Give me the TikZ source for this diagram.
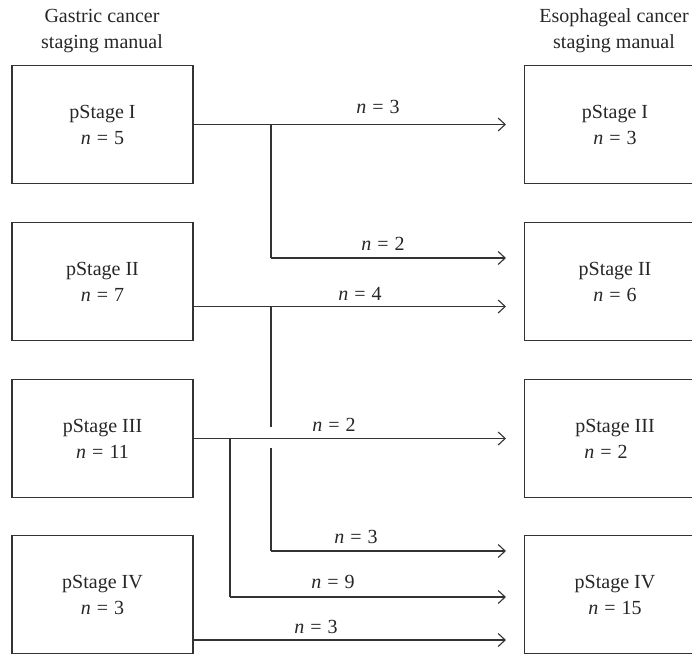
\documentclass[tikz,border=0pt]{standalone}
\usepackage{fontspec}
\setmainfont{Liberation Serif}
\usetikzlibrary{arrows.meta}
\definecolor{ink}{HTML}{333333}
\newcommand{\myn}[1]{\textit{n}\hspace{0.3em}=\hspace{0.3em}#1}
\begin{document}
\begin{tikzpicture}[x=1pt,y=-1pt,
  every node/.style={font=\fontsize{20}{26}\selectfont, text=black!85},
  stagebox/.style={draw=ink, line width=1.1pt, minimum width=181pt, minimum height=118pt, align=center, inner sep=0pt},
  hdr/.style={align=center, inner sep=0pt},
  lbl/.style={inner sep=0pt, anchor=base},
  link/.style={draw=ink, line width=1.1pt},
  arr/.style={link, -{Straight Barb[length=7pt,width=13pt,line width=1.1pt]}, shorten >=18pt}]
\path[use as bounding box] (0,0) rectangle (692,655);
\clip (0,0) rectangle (692,655);

% headers
\node[hdr] (hL) at (102,31) {Gastric cancer\\staging manual};
\node[hdr] (hR) at (614,31) {Esophageal cancer\\staging manual};

% left boxes
\node[stagebox] (L1) at (102.5,124.5) {pStage I\\\myn{5}};
\node[stagebox] (L2) at (102.5,281.5) {pStage II\\\myn{7}};
\node[stagebox] (L3) at (102.5,438.5) {pStage III\\\myn{11}};
\node[stagebox] (L4) at (102.5,594.5) {pStage IV\\\myn{3}};

% right boxes
\node[stagebox] (R1) at (615,124.5) {pStage I\\\myn{3}};
\node[stagebox] (R2) at (615,281.5) {pStage II\\\myn{6}};
\node[stagebox] (R3) at (615,438.5) {pStage III\\\hspace*{-18pt}\myn{2}};
\node[stagebox] (R4) at (615,594.5) {pStage IV\\\myn{15}};

% branch coordinates
\coordinate (o2) at ([yshift=-25pt]L2.east);
\coordinate (o4) at ([yshift=-45.5pt]L4.east);
\coordinate (a1) at (271,258);
\coordinate (g1) at (271,427);
\coordinate (g2) at (271,448);
\coordinate (a2) at (271,551);
\coordinate (a3) at (230,597);

% row 1
\draw[arr] (L1.east) -- (R1.west);
\draw[link] (L1.east -| a1) -- (a1);
\draw[arr] (a1) -- (a1 -| R2.west);

% row 2
\draw[arr] (o2) -- (o2 -| R2.west);
\draw[link] (o2 -| g1) -- (g1);
\draw[link] (g2) -- (a2);
\draw[arr] (a2) -- (a2 -| R4.west);

% row 3
\draw[arr] (L3.east) -- (R3.west);
\draw[link] (L3.east -| a3) -- (a3);
\draw[arr] (a3) -- (a3 -| R4.west);

% row 4
\draw[arr] (o4) -- (o4 -| R4.west);

% labels
\node[lbl] (n1) at (378,114) {\myn{3}};
\node[lbl] (n2) at (383,250) {\myn{2}};
\node[lbl] (n3) at (360,300) {\myn{4}};
\node[lbl] (n4) at (334,431) {\myn{2}};
\node[lbl] (n5) at (356,543) {\myn{3}};
\node[lbl] (n6) at (333,588) {\myn{9}};
\node[lbl] (n7) at (316,633) {\myn{3}};
\end{tikzpicture}
\end{document}
